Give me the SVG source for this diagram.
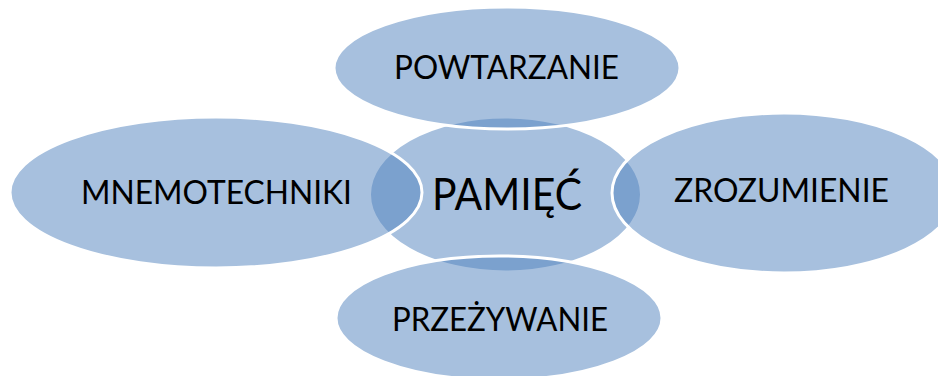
<svg xmlns="http://www.w3.org/2000/svg" width="938" height="376" viewBox="0 0 938 376">
  <style>
    .bubble { fill: #4F81BD; fill-opacity: 0.5; stroke: #FFFFFF; stroke-width: 3; }
    .label { font-family: Lato, "Open Sans", "Liberation Sans", sans-serif; fill: #000000; }
    .small { font-size: 33.5px; }
    .big { font-size: 44.5px; }
  </style>
  <rect width="938" height="376" fill="#FFFFFF"/>

  <!-- central node, drawn first so the outer bubbles overlap it -->
  <g id="node-pamiec">
    <ellipse class="bubble" cx="505.5" cy="194.5" rx="136" ry="77.5"/>
    <text class="label big" x="432" y="210" textLength="150" lengthAdjust="spacingAndGlyphs">PAMIĘĆ</text>
  </g>

  <g id="node-powtarzanie">
    <ellipse class="bubble" cx="507" cy="68" rx="173" ry="61"/>
    <text class="label small" x="394" y="78.5" textLength="225" lengthAdjust="spacingAndGlyphs">POWTARZANIE</text>
  </g>

  <g id="node-mnemotechniki">
    <ellipse class="bubble" cx="216" cy="192.5" rx="206" ry="75.5"/>
    <text class="label small" x="81" y="204" textLength="271" lengthAdjust="spacingAndGlyphs">MNEMOTECHNIKI</text>
  </g>

  <g id="node-zrozumienie">
    <ellipse class="bubble" cx="784" cy="193" rx="172" ry="80"/>
    <text class="label small" x="674" y="201.7" textLength="215" lengthAdjust="spacingAndGlyphs">ZROZUMIENIE</text>
  </g>

  <g id="node-przezywanie">
    <ellipse class="bubble" cx="499" cy="318" rx="163" ry="62"/>
    <text class="label small" x="392" y="331" textLength="216" lengthAdjust="spacingAndGlyphs">PRZEŻYWANIE</text>
  </g>

  <g id="connectors"/>
</svg>
